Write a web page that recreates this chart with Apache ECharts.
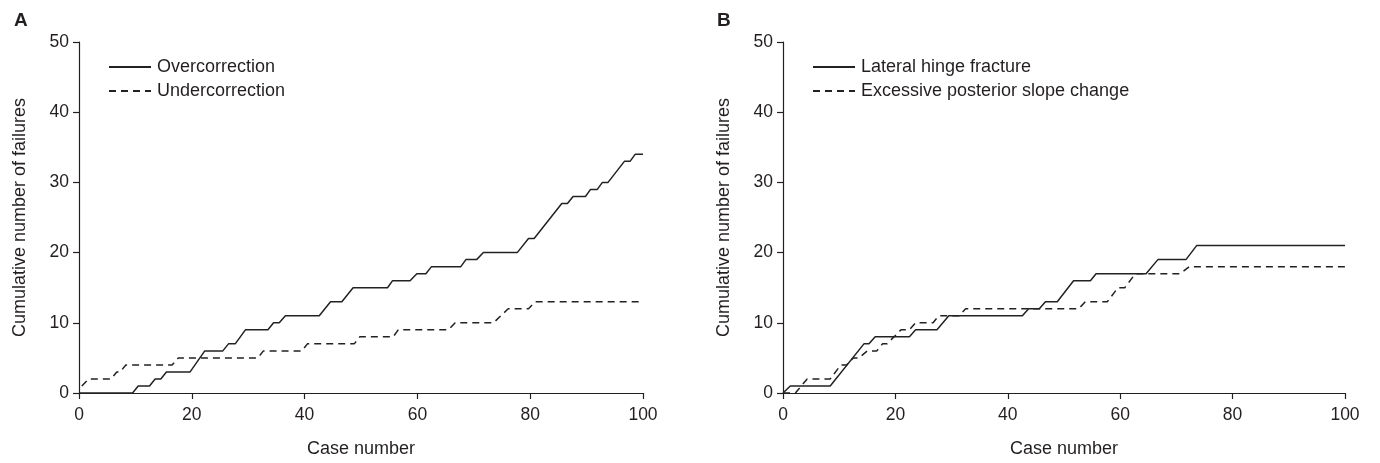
<!DOCTYPE html>
<html>
<head>
<meta charset="utf-8">
<script src="https://cdn.jsdelivr.net/npm/echarts@6/dist/echarts.min.js"></script>
<style>
html,body{margin:0;padding:0;background:#fff;}
#chart{width:1380px;height:463px;}
</style>
</head>
<body>
<div id="chart"></div>
<script>
// Panel A: cumulative failures (breakpoints [case number, cumulative count])
const overcorrection = [[0,0],[9.5,0],[10.5,1],[12.5,1],[13.5,2],[14.5,2],[15.5,3],[19.7,3],[22.3,6],[25.5,6],[26.5,7],[27.7,7],[29.5,9],[33.5,9],[34.5,10],[35.5,10],[36.6,11],[42.6,11],[44.6,13],[46.6,13],[48.6,15],[54.7,15],[55.6,16],[58.7,16],[59.9,17],[61.5,17],[62.5,18],[67.7,18],[68.6,19],[70.5,19],[71.7,20],[77.7,20],[79.7,22],[80.7,22],[85.6,27],[86.6,27],[87.6,28],[89.8,28],[90.7,29],[91.9,29],[92.8,30],[93.8,30],[96.7,33],[97.7,33],[98.6,34],[100,34]];
const undercorrection = [[0.5,1],[1.7,2],[5.7,2],[6.7,3],[7.3,3],[8.3,4],[16.5,4],[17.6,5],[31.7,5],[32.7,6],[39.5,6],[40.5,7],[48.8,7],[49.8,8],[55.7,8],[56.6,9],[65.5,9],[66.7,10],[73.5,10],[76.1,12],[79.7,12],[80.9,13],[100,13]];
// Panel B
const lateralHinge = [[0,0],[1.3,1],[8.4,1],[14.4,7],[15.3,7],[16.4,8],[22.5,8],[23.6,9],[27.4,9],[29.5,11],[42.6,11],[43.7,12],[45.6,12],[46.7,13],[48.8,13],[51.7,16],[54.7,16],[55.7,17],[64.6,17],[66.7,19],[71.7,19],[73.6,21],[100,21]];
const posteriorSlope = [[0,0],[2.2,0],[4.3,2],[8.4,2],[10.3,4],[11.3,4],[12.5,5],[13.5,5],[15,6],[16.7,6],[17.7,7],[18.5,7],[21,9],[22.5,9],[23.6,10],[26.7,10],[27.7,11],[31.3,11],[32.5,12],[52.6,12],[53.8,13],[57.7,13],[59.6,15],[60.8,15],[62.7,17],[70.7,17],[72.3,18],[100,18]];

const seriesNamesA = ['Overcorrection','Undercorrection'];
const seriesNamesB = ['Lateral hinge fracture','Excessive posterior slope change'];
const panelLabels = ['A','B'];
const xTicks = {min:0, max:100, interval:20};
const yTicks = {min:0, max:50, interval:10};
const xName = 'Case number';
const yName = 'Cumulative number of failures';

const FONT = '"Liberation Sans", Arial, sans-serif';
const INK = '#231f20';
const LINE = '#222222';

function xAxis(gi){
  return {
    type:'value', gridIndex:gi, min:xTicks.min, max:xTicks.max, interval:xTicks.interval,
    name:xName, nameLocation:'middle', nameGap:47,
    nameTextStyle:{fontFamily:FONT,fontSize:18,color:INK},
    axisLine:{show:true,lineStyle:{color:INK,width:1.2}},
    axisTick:{show:true,inside:false,length:6,lineStyle:{color:INK,width:1.2}},
    axisLabel:{fontFamily:FONT,fontSize:17.5,color:INK,margin:13},
    splitLine:{show:false}
  };
}
function yAxis(gi){
  return {
    type:'value', gridIndex:gi, min:yTicks.min, max:yTicks.max, interval:yTicks.interval,
    name:yName, nameLocation:'middle', nameGap:50, nameRotate:90,
    nameTextStyle:{fontFamily:FONT,fontSize:18,color:INK},
    axisLine:{show:true,lineStyle:{color:INK,width:1.2}},
    axisTick:{show:true,inside:false,length:6,lineStyle:{color:INK,width:1.2}},
    axisLabel:{fontFamily:FONT,fontSize:17.5,color:INK,margin:10},
    splitLine:{show:false}
  };
}
function line(name, data, gi, dashed){
  return {
    name:name, type:'line', xAxisIndex:gi, yAxisIndex:gi, data:data,
    symbol:'none', showSymbol:false, smooth:false, animation:false,
    lineStyle:{color:LINE, width:1.5, type: dashed ? [7,5] : 'solid'},
    itemStyle:{color:LINE}
  };
}
function legend(names, left){
  return {data:names, orient:'vertical', left:left, top:53, itemWidth:42, itemHeight:10, itemGap:6,
    itemStyle:{opacity:0, borderWidth:0},
    textStyle:{fontFamily:FONT,fontSize:18,color:INK,padding:[0,0,0,1]}, selectedMode:false};
}

const chart = echarts.init(document.getElementById('chart'), null, {renderer:'canvas'});
chart.setOption({
  backgroundColor:'#ffffff',
  animation:false,
  title:[
    {text:panelLabels[0], left:9, top:6, textStyle:{fontFamily:FONT,fontSize:19,fontWeight:'bold',color:INK}},
    {text:panelLabels[1], left:712, top:6, textStyle:{fontFamily:FONT,fontSize:19,fontWeight:'bold',color:INK}}
  ],
  legend:[legend(seriesNamesA,103), legend(seriesNamesB,807)],
  grid:[
    {left:79, top:42, width:564, height:351, containLabel:false},
    {left:783, top:42, width:562, height:351, containLabel:false}
  ],
  xAxis:[xAxis(0), xAxis(1)],
  yAxis:[yAxis(0), yAxis(1)],
  series:[
    line(seriesNamesA[0], overcorrection, 0, false),
    line(seriesNamesA[1], undercorrection, 0, true),
    line(seriesNamesB[0], lateralHinge, 1, false),
    line(seriesNamesB[1], posteriorSlope, 1, true)
  ]
});
</script>
</body>
</html>
